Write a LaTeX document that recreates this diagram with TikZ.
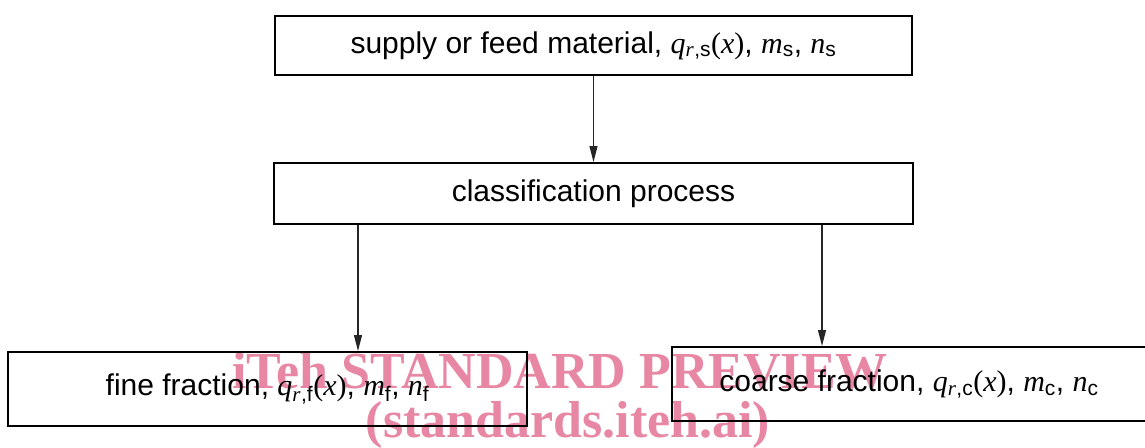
\documentclass[tikz,border=0pt]{standalone}
\usepackage{fontspec}
\setmainfont{Liberation Sans}
\newfontfamily\symfont{Liberation Serif}
\usetikzlibrary{positioning, arrows.meta}
\definecolor{markpink}{RGB}{232,135,163}

% italic serif symbols with sans subscripts
\newcommand{\sym}[1]{{\symfont\itshape #1}}
\newcommand{\qdist}[1]{\sym{q}\textsubscript{\sym{r}\kern0.5pt,#1}{\symfont(}\sym{x}{\symfont)}}
\newcommand{\idx}[2]{\sym{#1}\textsubscript{#2}}

\begin{document}
\begin{tikzpicture}[
    x=1pt, y=-1pt,
    node distance=86pt,
    every node/.style={font=\fontsize{30}{36}\selectfont},
    procbox/.style={draw, line width=2pt, inner sep=0pt, minimum height=60pt},
    arrow/.style={-{Triangle[length=16pt, width=8pt]}, line width=1.2pt, draw=black!85},
    watermark/.style={text=markpink, font=\fontsize{52}{56}\selectfont\symfont\bfseries}
]
\useasboundingbox (0,0) rectangle (1145,447);

% watermark sits behind the boxes
\node[watermark] (wm1) at (560,371) {iTeh STANDARD PREVIEW};
\node[watermark] (wm2) at (568,425) {(standards.iteh.ai)};

\node[procbox, minimum width=637pt, minimum height=59pt] (feed) at (593.5,45.5)
    {supply or feed material, \qdist{s}, \idx{m}{s}, \idx{n}{s}};
\node[procbox, minimum width=639pt, minimum height=61pt, below=of feed] (cls)
    {classification process};
\node[procbox, minimum width=519pt, minimum height=74pt] (fine) at (267.5,389)
    {fine fraction, \qdist{f}, \idx{m}{f}, \idx{n}{f}};
\node[procbox, minimum width=474pt, minimum height=74pt] (coarse) at (909,384)
    {coarse fraction, \qdist{c}, \idx{m}{c}, \idx{n}{c}};

\coordinate (fineIn) at (358,352);
\coordinate (coarseIn) at (822,347);

\draw[arrow] (feed.south) -- (cls.north);
\draw[arrow] (fineIn |- cls.south) -- (fineIn |- fine.north);
\draw[arrow] (coarseIn |- cls.south) -- (coarseIn |- coarse.north);

\end{tikzpicture}
\end{document}
